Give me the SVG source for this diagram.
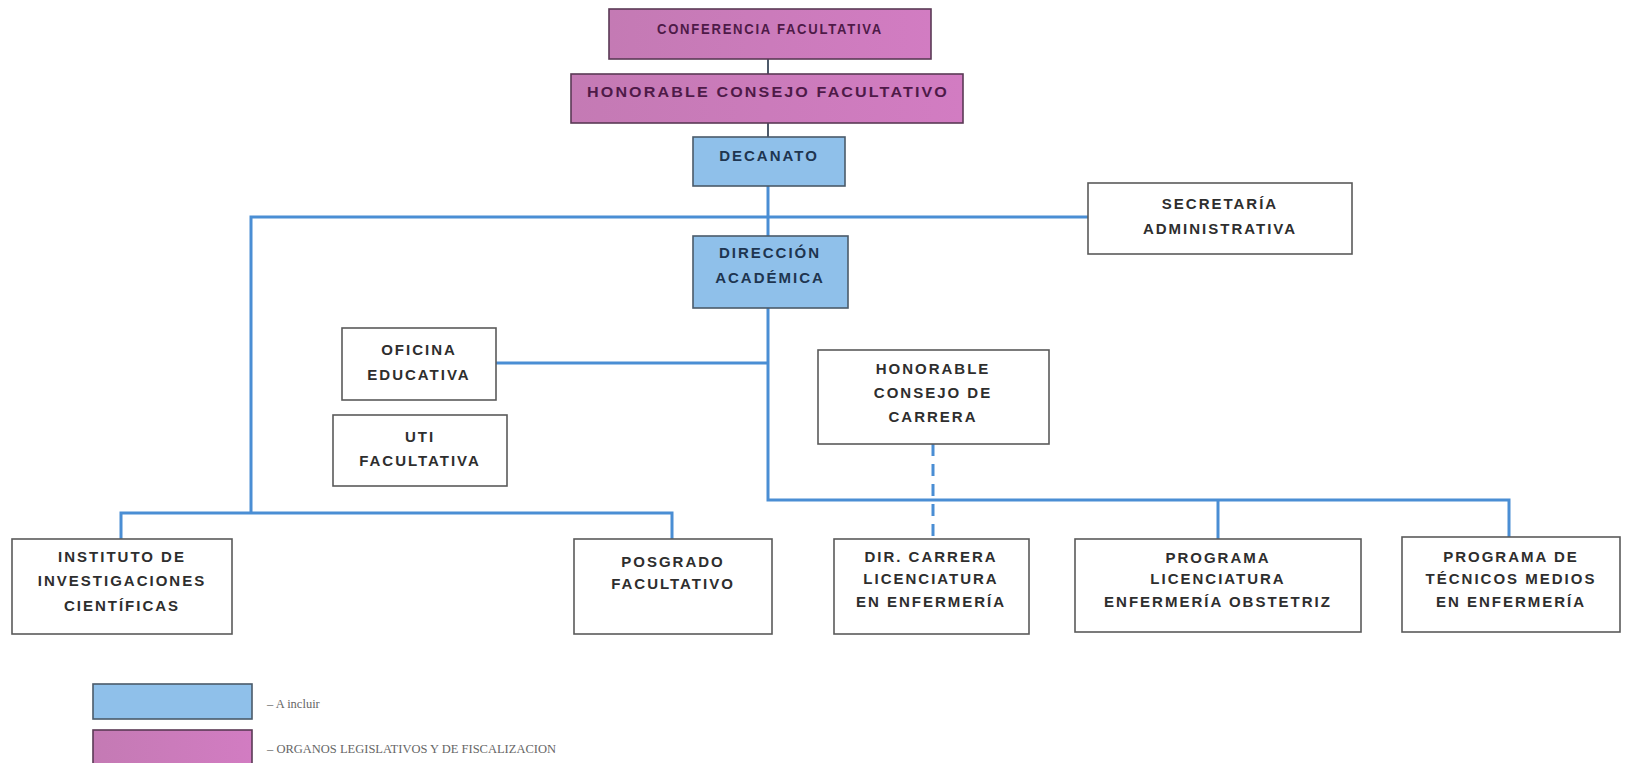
<svg xmlns="http://www.w3.org/2000/svg" width="1625" height="763" viewBox="0 0 1625 763">
<style>
.box{fill:#fff;stroke:#5a5a5a;stroke-width:1.6}
.pink{fill:url(#pk);stroke:#5a3a55;stroke-width:1.6}
.blue{fill:#8fc0ea;stroke:#4a5a6a;stroke-width:1.6}
.t{font-family:"Liberation Sans",Arial,sans-serif;font-weight:bold;font-size:15px;letter-spacing:2px;fill:#2e2e2e;text-anchor:middle}
.tp{fill:#4e1a48}
.tb{fill:#1e3550}
.ln{stroke:#4a8ed4;stroke-width:3;fill:none}
.dk{stroke:#4e5a6a;stroke-width:2;fill:none}
.dash{stroke:#4a8ed4;stroke-width:3;fill:none;stroke-dasharray:12 8}
.lg{font-family:"Liberation Serif","Times New Roman",serif;font-size:12.5px;fill:#666}
</style>
<defs>
<linearGradient id="pk" x1="0" y1="0" x2="1" y2="0">
<stop offset="0" stop-color="#c47ab4"/>
<stop offset="1" stop-color="#d27cc2"/>
</linearGradient>
</defs>
<rect width="1625" height="763" fill="#fff"/>
<g id="connectors">
<line class="dk" x1="768" y1="59" x2="768" y2="74"/>
<line class="dk" x1="768" y1="123" x2="768" y2="137"/>
<line class="ln" x1="768" y1="186" x2="768" y2="236"/>
<polyline class="ln" points="1088,217 251,217 251,513"/>
<polyline class="ln" points="121,539 121,513 672,513 672,539"/>
<line class="ln" x1="496" y1="363" x2="768" y2="363"/>
<polyline class="ln" points="768,308 768,500 1509,500 1509,537"/>
<line class="ln" x1="1218" y1="500" x2="1218" y2="539"/>
<line class="dash" x1="933" y1="444" x2="933" y2="539"/>
</g>
<g id="n-conferencia"><rect class="pink" x="609" y="9" width="322" height="50"/><text class="t tp" x="770" y="34" textLength="226" lengthAdjust="spacingAndGlyphs">CONFERENCIA FACULTATIVA</text></g>
<g id="n-hcf"><rect class="pink" x="571" y="74" width="392" height="49"/><text class="t tp" x="768" y="97" textLength="362" lengthAdjust="spacingAndGlyphs">HONORABLE CONSEJO FACULTATIVO</text></g>
<g id="n-decanato"><rect class="blue" x="693" y="137" width="152" height="49"/><text class="t tb" x="769" y="161">DECANATO</text></g>
<g id="n-secretaria"><rect class="box" x="1088" y="183" width="264" height="71"/><text class="t" x="1220" y="209">SECRETARÍA</text><text class="t" x="1220" y="234">ADMINISTRATIVA</text></g>
<g id="n-direccion"><rect class="blue" x="693" y="236" width="155" height="72"/><text class="t tb" x="770" y="258">DIRECCIÓN</text><text class="t tb" x="770" y="283">ACADÉMICA</text></g>
<g id="n-oficina"><rect class="box" x="342" y="328" width="154" height="72"/><text class="t" x="419" y="355">OFICINA</text><text class="t" x="419" y="380">EDUCATIVA</text></g>
<g id="n-uti"><rect class="box" x="333" y="415" width="174" height="71"/><text class="t" x="420" y="442">UTI</text><text class="t" x="420" y="466">FACULTATIVA</text></g>
<g id="n-hcc"><rect class="box" x="818" y="350" width="231" height="94"/><text class="t" x="933" y="374">HONORABLE</text><text class="t" x="933" y="398">CONSEJO DE</text><text class="t" x="933" y="422">CARRERA</text></g>
<g id="n-instituto"><rect class="box" x="12" y="539" width="220" height="95"/><text class="t" x="122" y="562">INSTITUTO DE</text><text class="t" x="122" y="586">INVESTIGACIONES</text><text class="t" x="122" y="611">CIENTÍFICAS</text></g>
<g id="n-posgrado"><rect class="box" x="574" y="539" width="198" height="95"/><text class="t" x="673" y="567">POSGRADO</text><text class="t" x="673" y="589">FACULTATIVO</text></g>
<g id="n-dircarrera"><rect class="box" x="834" y="539" width="195" height="95"/><text class="t" x="931" y="562">DIR. CARRERA</text><text class="t" x="931" y="584">LICENCIATURA</text><text class="t" x="931" y="607">EN ENFERMERÍA</text></g>
<g id="n-obstetriz"><rect class="box" x="1075" y="539" width="286" height="93"/><text class="t" x="1218" y="563">PROGRAMA</text><text class="t" x="1218" y="584">LICENCIATURA</text><text class="t" x="1218" y="607">ENFERMERÍA OBSTETRIZ</text></g>
<g id="n-tecnicos"><rect class="box" x="1402" y="537" width="218" height="95"/><text class="t" x="1511" y="562">PROGRAMA DE</text><text class="t" x="1511" y="584">TÉCNICOS MEDIOS</text><text class="t" x="1511" y="607">EN ENFERMERÍA</text></g>
<g id="legend">
<rect class="blue" x="93" y="684" width="159" height="35"/>
<rect class="pink" x="93" y="730" width="159" height="36"/>
<text class="lg" x="267" y="708">– A incluir</text>
<text class="lg" x="267" y="753" font-size="11.5">– ORGANOS LEGISLATIVOS Y DE FISCALIZACION</text>
</g>
</svg>
